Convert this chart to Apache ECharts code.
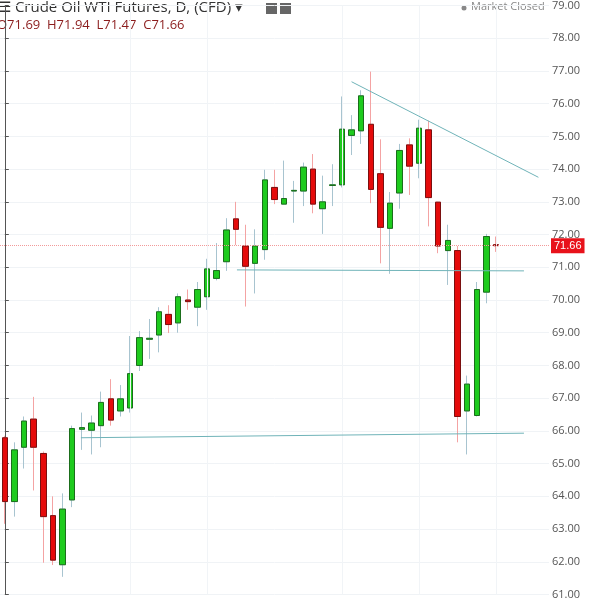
<!DOCTYPE html>
<html><head><meta charset="utf-8">
<script src="https://cdn.jsdelivr.net/npm/echarts@6/dist/echarts.min.js"></script>
<style>html,body{margin:0;padding:0;background:#fff}#c{width:594px;height:600px}</style>
</head><body><div id="c"></div>
<script>
const opens  = [65.79,63.84,65.5,66.36,65.31,63.41,61.91,63.89,66.05,66.02,66.16,66.98,66.61,66.7,68.0,68.8,68.93,69.56,69.3,70.0,69.78,70.1,70.66,71.17,72.48,71.65,71.12,71.54,73.44,72.93,73.33,73.33,74.0,72.79,73.5,73.52,75.03,75.17,75.37,73.86,72.19,73.27,74.74,74.18,75.2,72.99,71.51,71.51,66.61,66.47,70.24,71.69];
const closes = [63.84,65.42,66.3,65.5,63.38,62.05,63.61,66.07,66.1,66.24,66.87,66.33,66.98,67.75,68.85,68.83,69.64,69.25,70.1,69.95,70.32,70.95,70.9,72.14,72.16,71.03,71.65,73.67,73.07,73.1,73.35,74.06,72.93,73.0,73.52,75.22,75.2,76.24,73.38,72.22,72.96,74.57,74.09,75.25,73.13,71.65,71.82,66.44,67.43,70.32,71.94,71.66];
const highs  = [65.85,65.65,66.44,67.04,65.37,64.0,64.09,66.16,66.56,66.47,67.2,67.58,67.4,68.9,69.05,69.42,69.78,69.84,70.2,70.32,70.55,71.26,71.74,72.5,73.0,72.3,72.16,73.98,73.98,74.26,73.64,74.2,74.46,73.8,74.15,76.22,75.65,76.41,76.98,74.91,73.3,74.77,74.94,75.51,75.48,73.0,72.3,71.65,67.69,70.55,72.02,71.94];
const lows   = [63.16,63.38,64.85,64.18,61.97,61.9,61.54,63.67,65.42,65.28,65.5,66.16,66.44,66.56,67.83,68.2,68.4,68.99,69.0,69.7,69.2,69.7,70.6,70.89,71.68,69.8,70.2,71.23,72.93,72.93,72.36,72.87,72.65,72.02,72.87,73.44,74.43,74.77,72.96,71.12,70.8,72.79,73.21,73.72,72.25,71.43,70.46,65.65,65.28,66.44,69.9,71.47];
const yTicks = [61,79,1];
const lastPrice = 71.66;
const trendDown = [[36,76.67],[55.4,73.75]];
const trendMid = [[24.1,70.92],[53.9,70.89]];
const trendLow = [[7.9,65.79],[53.9,65.93]];
const vGrid = [13.1,21.05,35.1,43.0,51.1];
const nSlots = 57;

const cats = Array.from({length:nSlots},(_,i)=>String(i));
const full = opens.map((o,i)=>[o,closes[i],lows[i],highs[i]]);
const bodies = opens.map((o,i)=>[o,closes[i],Math.min(o,closes[i]),Math.max(o,closes[i])]);
const chart = echarts.init(document.getElementById('c'));
const tl = (d)=>({type:'line',xAxisIndex:1,data:d,symbol:'none',silent:true,lineStyle:{color:'#6fb3b8',width:1},z:5});
chart.setOption({
  animation:false,
  grid:{left:-1,right:45,top:-16.3,bottom:-19.3},
  xAxis:[{type:'category',data:cats,axisLine:{show:false},axisTick:{show:false},axisLabel:{show:false},splitLine:{show:false}},
         {type:'value',min:-0.5,max:nSlots-0.5,show:false}],
  yAxis:{type:'value',position:'right',min:yTicks[0],max:yTicks[1],interval:yTicks[2],
    axisLine:{show:true,lineStyle:{color:'#555'}},axisTick:{show:true,length:4,lineStyle:{color:'#555'}},
    axisLabel:{color:'#555',fontSize:11,fontFamily:'Open Sans',margin:3,formatter:v=>v.toFixed(2)},
    splitLine:{show:true,lineStyle:{color:'#f0f3f6'}}},
  series:[
    {type:'candlestick',data:full,barWidth:6,silent:true,
     itemStyle:{color:'rgba(0,0,0,0)',color0:'rgba(0,0,0,0)',borderColor:'#a8c4d0',borderColor0:'#f4a3a3',borderWidth:1},
     markLine:{symbol:'none',silent:true,label:{show:false},lineStyle:{color:'#f1f4f7',type:'solid',width:1},
       data:vGrid.map(v=>({xAxis:String(Math.round(v))}))}},
    {type:'candlestick',data:bodies,barWidth:6,silent:true,z:3,
     itemStyle:{color:'#1ecb1e',color0:'#e50b0b',borderColor:'#1b6e1b',borderColor0:'#7a1010',borderWidth:1},
     markLine:{symbol:'none',silent:true,data:[{yAxis:lastPrice}],lineStyle:{color:'#f29a9a',type:'dotted',width:1},
       label:{position:'end',formatter:lastPrice.toFixed(2),backgroundColor:'#e8121b',color:'#fff',fontSize:11,padding:[2,3],distance:2}}},
    tl(trendDown),tl(trendMid),tl(trendLow)
  ],
  graphic:[
    {type:'text',left:-2,top:0,style:{text:'☰ Crude Oil WTI Futures, D, (CFD) ▾',font:'15px "Open Sans"',fill:'#333'}},
    {type:'rect',shape:{x:266,y:3,width:11,height:11},style:{fill:'#666'}},
    {type:'rect',shape:{x:280,y:3,width:11,height:11},style:{fill:'#666'}},
    {type:'text',left:-3,top:19,style:{text:'O71.69  H71.94  L71.47  C71.66',font:'13px "Open Sans"',fill:'#8b1c1c'}},
    {type:'circle',shape:{cx:464,cy:8,r:2.5},style:{fill:'#888'}},
    {type:'text',left:471,top:1,style:{text:'Market Closed',font:'11px "Open Sans"',fill:'#888'}}
  ]
});
</script></body></html>
